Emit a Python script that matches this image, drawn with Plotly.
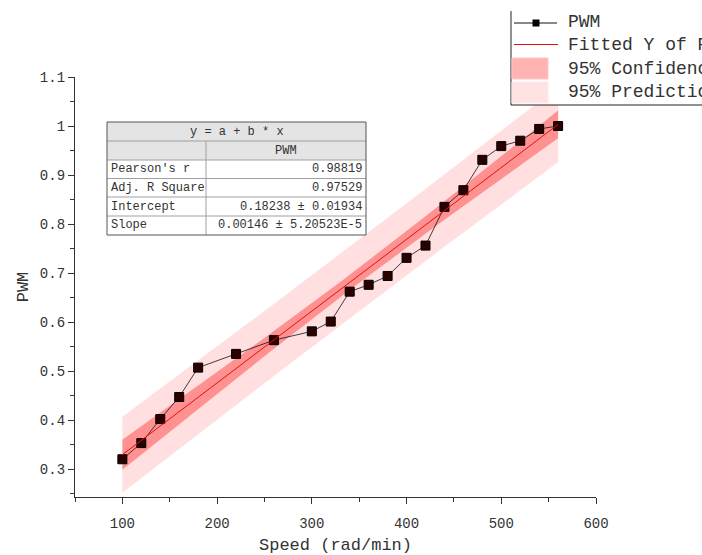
import numpy as np
import plotly.graph_objects as go

# ---------------- data ----------------
speed = [100, 120, 140, 160, 180, 220, 260, 300, 320, 340, 360, 380, 400,
         420, 440, 460, 480, 500, 520, 540, 560]
pwm = [0.320, 0.353, 0.402, 0.447, 0.507, 0.535, 0.563, 0.581, 0.601, 0.662,
       0.676, 0.694, 0.731, 0.756, 0.835, 0.869, 0.931, 0.959, 0.970, 0.994,
       1.000]

table_title = "y = a + b * x"
table_col = "PWM"
table_labels = ["Pearson's r", "Adj. R Square", "Intercept", "Slope"]
table_values = ["0.98819", "0.97529", "0.18238 ± 0.01934", "0.00146 ± 5.20523E-5"]

legend_names = ["PWM", "Fitted Y of PWM", "95% Confidence Band of PWM",
                "95% Prediction Band of PWM"]

# ---------------- linear fit + bands ----------------
x = np.array(speed, float)
y = np.array(pwm, float)
n = len(x)
b, a = np.polyfit(x, y, 1)
resid = y - (a + b * x)
s = np.sqrt(np.sum(resid ** 2) / (n - 2))
xbar = x.mean()
sxx = np.sum((x - xbar) ** 2)
t975 = 2.093  # t(0.975, df=19)
xg = np.linspace(x.min(), x.max(), 60)
yg = a + b * xg
ci = t975 * s * np.sqrt(1 / n + (xg - xbar) ** 2 / sxx)
pi = t975 * s * np.sqrt(1 + 1 / n + (xg - xbar) ** 2 / sxx)

FONT = "Liberation Mono"
PI_FILL = "rgba(255,170,170,0.38)"
CI_FILL = "rgba(255,50,50,0.45)"
fig = go.Figure()

# prediction band
fig.add_trace(go.Scatter(x=xg, y=yg - pi, mode="lines", line=dict(width=0),
                         showlegend=False, hoverinfo="skip"))
fig.add_trace(go.Scatter(x=xg, y=yg + pi, mode="lines", line=dict(width=0),
                         fill="tonexty", fillcolor=PI_FILL,
                         name=legend_names[3], showlegend=False))
# confidence band
fig.add_trace(go.Scatter(x=xg, y=yg - ci, mode="lines", line=dict(width=0),
                         showlegend=False, hoverinfo="skip"))
fig.add_trace(go.Scatter(x=xg, y=yg + ci, mode="lines", line=dict(width=0),
                         fill="tonexty", fillcolor=CI_FILL,
                         name=legend_names[2], showlegend=False))
# data
fig.add_trace(go.Scatter(x=speed, y=pwm, mode="lines+markers", name=legend_names[0],
                         line=dict(color="#111111", width=0.8),
                         marker=dict(symbol="square", size=9, color="#2a0000",
                                     line=dict(color="#000000", width=1)),
                         showlegend=False))
# fitted line
fig.add_trace(go.Scatter(x=[x.min(), x.max()], y=[a + b * x.min(), a + b * x.max()],
                         mode="lines", line=dict(color="#e01010", width=1),
                         name=legend_names[1], showlegend=False))

# ---------------- layout geometry (screen pixels -> paper) ----------------
L, T, W, H = 75, 77, 521, 420
def px(v):
    return (v - L) / W
def py(v):
    return (T + H - v) / H

def rect(x0, y0, x1, y1, fill, line_color=None, lw=0):
    return dict(type="rect", xref="paper", yref="paper", x0=px(x0), x1=px(x1),
                y0=py(y1), y1=py(y0), fillcolor=fill,
                line=dict(width=lw, color=line_color or "rgba(0,0,0,0)"), layer="above")

def seg(x0, y0, x1, y1, color, lw=1):
    return dict(type="line", xref="paper", yref="paper", x0=px(x0), x1=px(x1),
                y0=py(y0), y1=py(y1), line=dict(color=color, width=lw), layer="above")

shapes = []
# --- statistics table ---
shapes.append(rect(107, 122, 366, 160, "#e4e4e4"))
for yy in [141, 160, 178.5, 197, 216]:
    shapes.append(seg(107, yy, 366, yy, "#a0a0a0"))
shapes.append(seg(206, 141, 206, 235, "#a0a0a0"))
shapes.append(dict(type="rect", xref="paper", yref="paper", x0=px(107), x1=px(366),
                   y0=py(235), y1=py(122), line=dict(color="#555555", width=1),
                   layer="above"))

# --- legend box (cut by the window edge) ---
shapes.append(rect(511, 8, 702, 105, "white"))
shapes.append(seg(511, 11, 511, 105, "#222222"))
shapes.append(seg(511, 105, 702, 105, "#222222"))
shapes.append(seg(514, 23, 557, 23, "#111111"))
shapes.append(rect(532.5, 19.5, 539.5, 26.5, "#000000"))
shapes.append(seg(514, 44.5, 558, 44.5, "#e01010"))
shapes.append(rect(512, 58, 548, 79, "#ffb3b3", "#ffc8c8", 1))
shapes.append(rect(512, 82, 548, 103, "#ffe3e3", "#ffeaea", 1))

tfont = dict(family=FONT, size=12, color="#333333")
ann = []
ann.append(dict(xref="paper", yref="paper", x=px(236.5), y=py(131.5), text=table_title,
                showarrow=False, xanchor="center", yanchor="middle", font=tfont))
ann.append(dict(xref="paper", yref="paper", x=px(286), y=py(150.5), text=table_col,
                showarrow=False, xanchor="center", yanchor="middle", font=tfont))
row_y = [169.25, 187.75, 206.5, 225.5]
for lab, val, ry in zip(table_labels, table_values, row_y):
    ann.append(dict(xref="paper", yref="paper", x=px(109), y=py(ry), text=lab,
                    showarrow=False, xanchor="left", yanchor="middle", font=tfont))
    ann.append(dict(xref="paper", yref="paper", x=px(364), y=py(ry), text=val,
                    showarrow=False, xanchor="right", yanchor="middle", font=tfont))

lfont = dict(family=FONT, size=18, color="#333333")
for name, ly in zip(legend_names, [22, 45, 69, 92]):
    ann.append(dict(xref="paper", yref="paper", x=px(566), y=py(ly), text=name,
                    showarrow=False, xanchor="left", yanchor="middle", font=lfont))

axis_common = dict(showline=True, linecolor="#333333", linewidth=1.3, ticks="outside",
                   tickcolor="#333333", ticklen=6, tickwidth=1.3, showgrid=False,
                   zeroline=False, tickfont=dict(family=FONT, size=14, color="#333333"),
                   mirror=False)

fig.update_layout(
    width=702, height=555,
    margin=dict(l=L, r=702 - L - W, t=T, b=555 - T - H, autoexpand=False),
    paper_bgcolor="white", plot_bgcolor="white",
    xaxis=dict(range=[50, 600], tick0=0, dtick=100, ticklabelstandoff=7,
               minor=dict(ticks="outside", ticklen=4, dtick=50, tick0=0,
                          tickcolor="#333333", tickwidth=1.2),
               title=dict(text="Speed (rad/min)", font=dict(family=FONT, size=17, color="#333333"),
                          standoff=8),
               **axis_common),
    yaxis=dict(range=[0.243, 1.1], tick0=0, dtick=0.1,
               minor=dict(ticks="outside", ticklen=4, dtick=0.05, tick0=0,
                          tickcolor="#333333", tickwidth=1.2),
               title=dict(text="PWM", font=dict(family=FONT, size=17, color="#333333"),
                          standoff=6),
               **axis_common),
    shapes=shapes, annotations=ann,
    showlegend=False,
)

fig.write_html("out.html", config={"displayModeBar": False},
               post_script="document.body.style.margin='0';document.body.style.overflow='hidden';")
